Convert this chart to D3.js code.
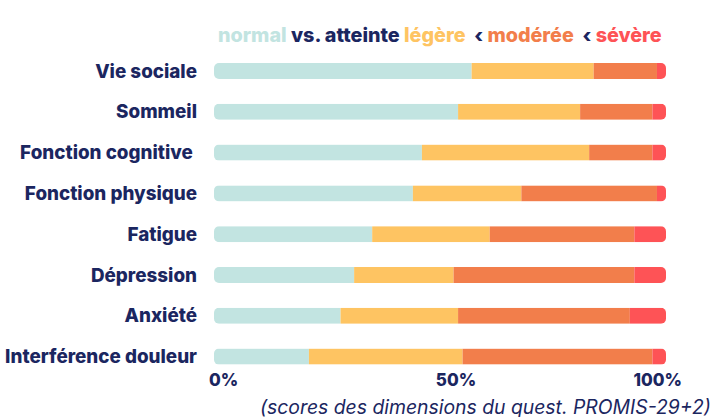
<!DOCTYPE html>
<html>
<head>
<meta charset="utf-8">
<script src="https://cdn.jsdelivr.net/npm/d3@7"></script>
<style>
  html, body { margin: 0; padding: 0; background: #fff; }
  svg { display: block; font-family: Inter, "DejaVu Sans", sans-serif; }
</style>
</head>
<body>
<div id="chart"></div>
<script>
const categories = ['Vie sociale', 'Sommeil', 'Fonction cognitive ', 'Fonction physique',
  'Fatigue', 'Dépression', 'Anxiété', 'Interférence douleur'];
const keys = ['normal', 'legere', 'moderee', 'severe'];
const normal  = [57, 54, 46, 44, 35, 31, 28, 21];
const legere  = [27, 27, 37, 24, 26, 22, 26, 34];
const moderee = [14, 16, 14, 30, 32, 40, 38, 42];
const severe  = [ 2,  3,  3,  2,  7,  7,  8,  3];
const tickValues = [0, 50, 100];
const legendParts = [
  { t: 'normal ', k: 'normal' },
  { t: 'vs. atteinte ', k: 'navy' },
  { t: 'légère ', k: 'legere' },
  { t: ' ‹ ', k: 'navy' },
  { t: 'modérée ', k: 'moderee' },
  { t: ' ‹ ', k: 'navy' },
  { t: 'sévère', k: 'severe' },
];
const caption = '(scores des dimensions du quest. PROMIS-29+2)';

const colors = { normal: '#c2e4e1', legere: '#fec462', moderee: '#f27e4b', severe: '#fe5356', navy: '#1b2660' };

const W = 712, H = 417;
const rows = categories.map((c, i) => ({
  cat: c, normal: normal[i], legere: legere[i], moderee: moderee[i], severe: severe[i]
}));

const svg = d3.select('#chart').append('svg').attr('width', W).attr('height', H);

const x = d3.scaleLinear().domain([0, 100]).range([214, 666]);
const y = d3.scaleBand().domain(categories).range([50.6, 377])
  .paddingInner(0.608).paddingOuter(0.304);
const R = 5;

// fit a text element to a given pixel width by adjusting font size
function fit(sel, width) {
  const fs = parseFloat(sel.attr('font-size'));
  const w = sel.node().getComputedTextLength();
  sel.attr('font-size', fs * width / w);
}

// clip each row to a rounded bar
const defs = svg.append('defs');
categories.forEach((c, i) => {
  defs.append('clipPath').attr('id', 'clip' + i)
    .append('rect')
    .attr('x', x(0)).attr('y', y(c))
    .attr('width', x(100) - x(0)).attr('height', y.bandwidth())
    .attr('rx', R).attr('ry', R);
});

const series = d3.stack().keys(keys)(rows);

const rowG = svg.append('g').selectAll('g').data(categories).join('g')
  .attr('clip-path', (d, i) => `url(#clip${i})`);

rowG.each(function(c, i) {
  d3.select(this).selectAll('rect').data(series.map(s => ({ key: s.key, v: s[i] })))
    .join('rect')
    .attr('x', d => x(d.v[0]))
    .attr('y', y(c))
    .attr('width', d => x(d.v[1]) - x(d.v[0]))
    .attr('height', y.bandwidth())
    .attr('fill', d => colors[d.key]);
});

// category labels
const labels = svg.append('g').selectAll('text').data(categories).join('text')
  .attr('x', 197)
  .attr('y', d => y(d) + y.bandwidth() / 2 + 6.5)
  .attr('text-anchor', 'end')
  .attr('font-size', 17)
  .attr('font-weight', 800)
  .attr('fill', colors.navy)
  .style('white-space', 'pre')
  .text(d => d);
const longest = labels.filter(d => d === 'Interférence douleur');
fit(longest, 192);
labels.attr('font-size', longest.attr('font-size'));

// axis tick labels
const tickAnchor = ['start', 'middle', 'end'];
const tickShift = [-5, 16, 16];
svg.append('g').selectAll('text').data(tickValues).join('text')
  .attr('x', (d, i) => x(d) + tickShift[i])
  .attr('y', 386)
  .attr('text-anchor', (d, i) => tickAnchor[i])
  .attr('font-size', 17)
  .attr('font-weight', 800)
  .attr('fill', colors.navy)
  .text(d => d + '%');

// legend title
const leg = svg.append('text')
  .attr('x', 218).attr('y', 41.5)
  .attr('font-size', 18)
  .attr('font-weight', 800)
  .style('white-space', 'pre');
leg.selectAll('tspan').data(legendParts).join('tspan')
  .attr('fill', d => colors[d.k])
  .text(d => d.t);
fit(leg, 444);

// caption
const cap = svg.append('text')
  .attr('x', 260).attr('y', 413.5)
  .attr('font-size', 18)
  .attr('font-style', 'italic')
  .attr('font-weight', 400)
  .attr('fill', colors.navy)
  .text(caption);
fit(cap, 451);
</script>
</body>
</html>
